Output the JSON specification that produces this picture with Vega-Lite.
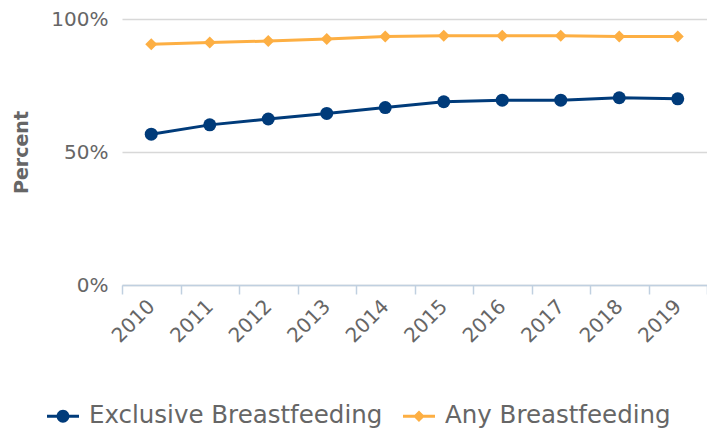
{
  "$schema": "https://vega.github.io/schema/vega-lite/v6.json",
  "width": 585,
  "height": 266,
  "autosize": "none",
  "padding": {"left": 122, "top": 19, "right": 0, "bottom": 148},
  "config": {"font": "DejaVu Sans", "view": {"stroke": null}},
  "data": {
    "values": [
      {"year": "2010", "series": "Exclusive Breastfeeding", "value": 56.7},
      {"year": "2011", "series": "Exclusive Breastfeeding", "value": 60.2},
      {"year": "2012", "series": "Exclusive Breastfeeding", "value": 62.4},
      {"year": "2013", "series": "Exclusive Breastfeeding", "value": 64.5},
      {"year": "2014", "series": "Exclusive Breastfeeding", "value": 66.7},
      {"year": "2015", "series": "Exclusive Breastfeeding", "value": 68.9},
      {"year": "2016", "series": "Exclusive Breastfeeding", "value": 69.5},
      {"year": "2017", "series": "Exclusive Breastfeeding", "value": 69.5},
      {"year": "2018", "series": "Exclusive Breastfeeding", "value": 70.4},
      {"year": "2019", "series": "Exclusive Breastfeeding", "value": 70.0},
      {"year": "2010", "series": "Any Breastfeeding", "value": 90.5},
      {"year": "2011", "series": "Any Breastfeeding", "value": 91.2},
      {"year": "2012", "series": "Any Breastfeeding", "value": 91.7},
      {"year": "2013", "series": "Any Breastfeeding", "value": 92.5},
      {"year": "2014", "series": "Any Breastfeeding", "value": 93.4},
      {"year": "2015", "series": "Any Breastfeeding", "value": 93.7},
      {"year": "2016", "series": "Any Breastfeeding", "value": 93.7},
      {"year": "2017", "series": "Any Breastfeeding", "value": 93.7},
      {"year": "2018", "series": "Any Breastfeeding", "value": 93.4},
      {"year": "2019", "series": "Any Breastfeeding", "value": 93.4}
    ]
  },
  "encoding": {
    "x": {
      "field": "year",
      "type": "ordinal",
      "scale": {"paddingInner": 0, "paddingOuter": 0},
      "axis": {
        "title": null,
        "labelAngle": -45,
        "labelAlign": "right",
        "labelBaseline": "middle",
        "labelFontSize": 20,
        "labelColor": "#666666",
        "domainColor": "#C0D0E0",
        "domainWidth": 1.5,
        "tickColor": "#C0D0E0",
        "tickSize": 9,
        "tickWidth": 1.5,
        "tickBand": "extent",
        "labelPadding": 9,
        "grid": false
      }
    },
    "y": {
      "field": "value",
      "type": "quantitative",
      "scale": {"domain": [0, 100]},
      "axis": {
        "title": "Percent",
        "titleFontSize": 19,
        "titleFontWeight": "bold",
        "titleColor": "#666666",
        "titleX": -101,
        "titleY": 133,
        "titleAlign": "center",
        "titleBaseline": "middle",
        "values": [0, 50, 100],
        "labelExpr": "datum.value + '%'",
        "labelFontSize": 20,
        "labelColor": "#666666",
        "domain": false,
        "ticks": false,
        "labelPadding": 14,
        "gridColor": "#d8d8d8",
        "gridWidth": 1.5
      }
    },
    "color": {
      "field": "series",
      "type": "nominal",
      "sort": ["Exclusive Breastfeeding", "Any Breastfeeding"],
      "scale": {"domain": ["Exclusive Breastfeeding", "Any Breastfeeding"], "range": ["#003b7a", "#fdaf43"]},
      "legend": {
        "orient": "none",
        "legendX": -75,
        "legendY": 381,
        "direction": "horizontal",
        "title": null,
        "symbolSize": 1024,
        "labelFontSize": 24.5,
        "labelColor": "#666666",
        "labelOffset": 10,
        "labelLimit": 400,
        "columnPadding": 20,
        "padding": 0,
        "encode": {
          "symbols": {
            "update": {
              "shape": {"signal": "datum.value === 'Exclusive Breastfeeding' ? 'M-1,-0.09H1V0.09H-1Z M-0.4,0A0.4,0.4 0 1,1 0.4,0A0.4,0.4 0 1,1 -0.4,0Z' : 'M-1,-0.09H1V0.09H-1Z M0,-0.36L0.36,0L0,0.36L-0.36,0Z'"},
              "fill": {"signal": "datum.value === 'Exclusive Breastfeeding' ? '#003b7a' : '#fdaf43'"},
              "strokeWidth": {"value": 0},
              "opacity": {"value": 1}
            }
          }
        }
      }
    }
  },
  "layer": [
    {"mark": {"type": "line", "strokeWidth": 3}},
    {
      "transform": [{"filter": "datum.series === 'Exclusive Breastfeeding'"}],
      "mark": {"type": "point", "shape": "circle", "filled": true, "opacity": 1, "size": 169}
    },
    {
      "transform": [{"filter": "datum.series === 'Any Breastfeeding'"}],
      "mark": {"type": "point", "shape": "diamond", "filled": true, "opacity": 1, "size": 144}
    }
  ]
}
